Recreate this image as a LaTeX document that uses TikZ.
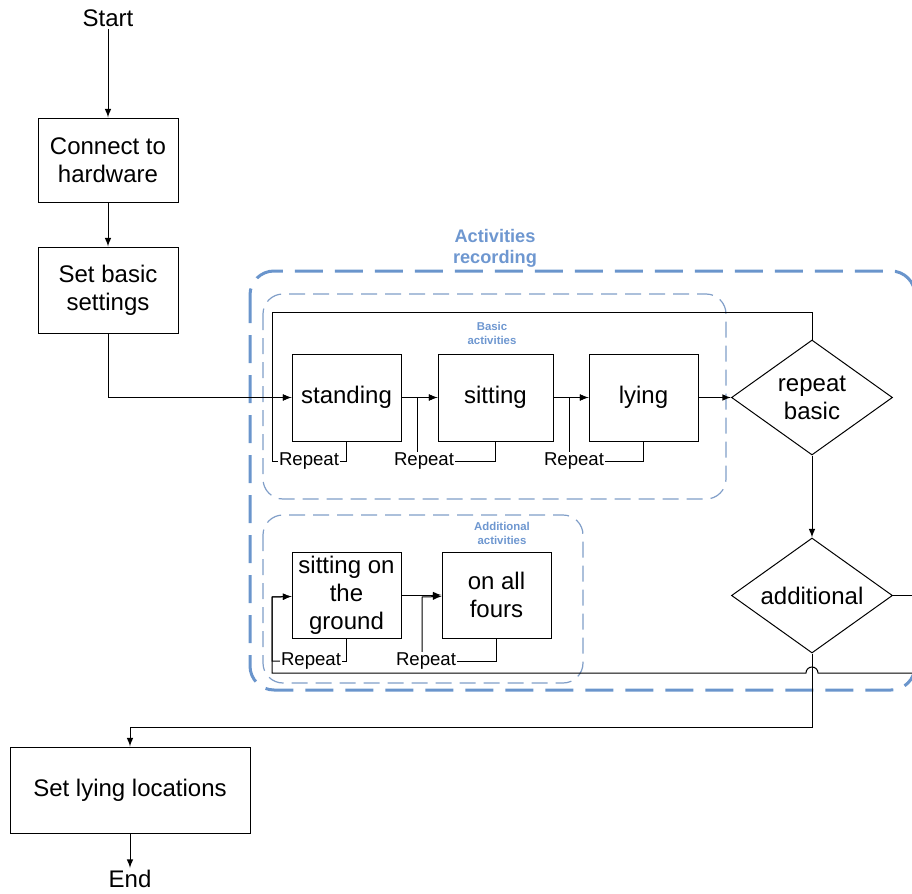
\documentclass[tikz,border=0pt]{standalone}
\usepackage{fontspec}
\setmainfont{Liberation Sans}
\usetikzlibrary{shapes.geometric}
\definecolor{actblue}{RGB}{106,149,204}
\definecolor{grpblue}{RGB}{128,158,200}
\definecolor{lblblue}{RGB}{110,151,208}

\begin{document}
\begin{tikzpicture}[x=0.5pt,y=-0.5pt,>=latex,line width=0.5pt]
\tikzstyle{box}=[rectangle,draw,align=center,inner sep=0pt,font=\fontsize{12}{14}\selectfont]
\tikzstyle{dec}=[diamond,draw,aspect=1.4,inner sep=0pt,minimum width=80.5pt,minimum height=57.5pt,align=center,font=\fontsize{12}{14}\selectfont]
\tikzstyle{rep}=[fill=white,inner sep=0.5pt,font=\fontsize{9.3}{11}\selectfont]
\tikzstyle{grp}=[draw=grpblue,line width=0.6pt,rounded corners=10pt,dash pattern=on 8pt off 4pt]
\tikzstyle{grplbl}=[text=lblblue,align=center,font=\bfseries\fontsize{5.7}{7}\selectfont]
\tikzstyle{term}=[inner sep=1pt,font=\fontsize{12}{14}\selectfont]

\useasboundingbox (0,0) rectangle (912,894);

% activities recording frame and groups
\draw[draw=actblue,line width=1.5pt,rounded corners=12pt,dash pattern=on 14pt off 6pt] (250,271) rectangle (915,690);
\node[text=lblblue,align=center,font=\bfseries\fontsize{9.1}{10.5}\selectfont] (reclbl) at (495,248) {Activities\\recording};
\draw[grp] (263,294) rectangle (726,499);
\node[grplbl] (basiclbl) at (492,333) {Basic\\activities};
\draw[grp] (263,515) rectangle (583,683);
\node[grplbl] (addlbl) at (502,533) {Additional\\activities};

% steps
\node[term] (start) at (108,18) {Start};
\node[box,minimum width=70pt,minimum height=42pt] (hw) at (108,160) {Connect to\\hardware};
\node[box,minimum width=70pt,minimum height=43pt] (settings) at (108,290) {Set basic\\settings};
\node[box,minimum width=54.5pt,minimum height=43.5pt] (standing) at (346.5,397.5) {standing};
\node[box,minimum width=57.5pt,minimum height=43.5pt] (sitting) at (495.5,397.5) {sitting};
\node[box,minimum width=54.5pt,minimum height=43.5pt] (lying) at (643.5,397.5) {lying};
\node[dec] (rb) at (812,397.5) {repeat\\basic};
\node[dec] (ad) at (812,595.5) {additional};
\node[box,minimum width=54.5pt,minimum height=43pt] (ground) at (346.5,595) {sitting on\\the\\ground};
\node[box,minimum width=54.5pt,minimum height=43pt] (fours) at (496.5,595) {on all\\fours};
\node[box,minimum width=120pt,minimum height=43pt] (locs) at (130,790) {Set lying locations};
\node[term,anchor=north] (end) at (130,868) {End};

% bends
\coordinate (in1) at (272,397.5);
\coordinate (in2) at (417,397.5);
\coordinate (in3) at (569,397.5);
\coordinate (in4) at (272,597);
\coordinate (in5) at (422,597);
\coordinate (top) at (272,312);
\coordinate (dn) at (812,727);
\coordinate (ex1) at (912,595.5);
\coordinate (ex2) at (912,673);

% main flow
\draw[->] (start) -- (hw);
\draw[->] (hw) -- (settings);
\draw[->] (settings) |- (standing);
\draw[->] (standing) -- (sitting);
\draw[->] (sitting) -- (lying);
\draw[->] (lying) -- (rb);
\draw[->] (rb) -- (ad);
\draw (rb.north) |- (top) -- (in1);
\draw (ad) -- (ex1);
\draw[->] (ad) -- (dn) -| (locs);
\draw[->] (locs) -- (end);
\draw[->] (ex2) -- (818,673) arc[start angle=0,end angle=180,radius=3pt] -- (272,673) -- (in4) -- (ground);
\draw[->] (ground) -- (fours);

% repeat loops
\draw (standing.south) |- (309,461.5);
\draw[->] (309,461.5) -| (in1) -- (standing);
\node[rep] (rp1) at (309,461.5) {Repeat};
\draw (sitting.south) |- (424,461.5);
\draw[->] (424,461.5) -| (in2) -- (sitting);
\node[rep] (rp2) at (424,461.5) {Repeat};
\draw (lying.south) |- (574,461.5);
\draw[->] (574,461.5) -| (in3) -- (lying);
\node[rep] (rp3) at (574,461.5) {Repeat};
\draw (ground.south) |- (311,661);
\draw[->] (311,661) -| (in4) -- (ground);
\node[rep] (rp4) at (311,661) {Repeat};
\draw (fours.south) |- (426,661);
\draw[->] (426,661) -| (in5) -- (fours);
\node[rep] (rp5) at (426,661) {Repeat};
\end{tikzpicture}
\end{document}
